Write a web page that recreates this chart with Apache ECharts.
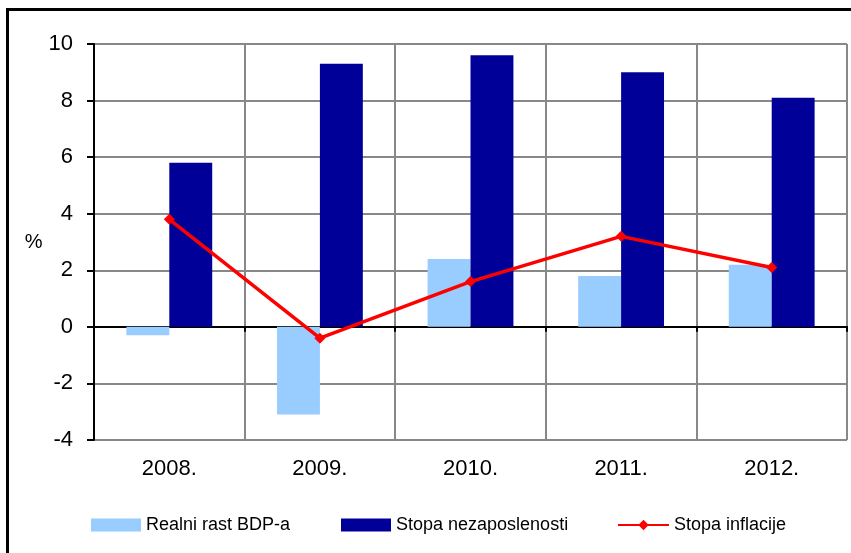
<!DOCTYPE html>
<html>
<head>
<meta charset="utf-8">
<script src="https://cdn.jsdelivr.net/npm/echarts@6/dist/echarts.min.js"></script>
<style>
  html, body { margin: 0; padding: 0; background: #fff; }
  #chart { width: 851px; height: 553px; }
</style>
</head>
<body>
<div id="chart"></div>
<script>
// podaci s grafikona
const years = ["2008.", "2009.", "2010.", "2011.", "2012."];
const realGdp = [-0.3, -3.1, 2.4, 1.8, 2.2];
const unemployment = [5.8, 9.3, 9.6, 9.0, 8.1];
const inflation = [3.8, -0.4, 1.6, 3.2, 2.1];
const yTicks = [-4, -2, 0, 2, 4, 6, 8, 10];

const font = "'Liberation Sans', Arial, sans-serif";
const legendText = { fontFamily: font, fontSize: 18, color: "#000" };

const chart = echarts.init(document.getElementById("chart"));
const option = {
  animation: false,
  backgroundColor: "#fff",
  textStyle: { fontFamily: font },
  graphic: [
    {
      // okvir oko grafikona
      type: "rect",
      shape: { x: 7.5, y: 9.5, width: 900, height: 600 },
      style: { fill: "none", stroke: "#000", lineWidth: 3 },
      silent: true,
    },
  ],
  grid: { left: 94, top: 44, right: 4, bottom: 113 },
  legend: [
    {
      data: [{ name: "Realni rast BDP-a", icon: "rect" }],
      left: 91, top: 516, padding: 0,
      itemWidth: 50, itemHeight: 13,
      textStyle: legendText,
    },
    {
      data: [{ name: "Stopa nezaposlenosti", icon: "rect" }],
      left: 341, top: 516, padding: 0,
      itemWidth: 50, itemHeight: 13,
      textStyle: legendText,
    },
    {
      data: ["Stopa inflacije"],
      left: 617, top: 516, padding: 0,
      itemWidth: 51, itemHeight: 13,
      textStyle: legendText,
    },
  ],
  xAxis: [
    {
      type: "category",
      data: years,
      axisLine: { show: false, onZero: false },
      axisTick: { show: false },
      axisLabel: { color: "#000", fontSize: 22, margin: 18, fontFamily: font },
      splitLine: { show: true, lineStyle: { color: "#888", width: 2 } },
    },
    {
      // linija na nuli s kvačicama
      type: "category",
      data: years,
      position: "bottom",
      axisLine: { show: true, onZero: true, lineStyle: { color: "#000", width: 2 } },
      axisTick: { show: true, length: 5, lineStyle: { color: "#000", width: 2 } },
      axisLabel: { show: false },
      splitLine: { show: false },
    },
  ],
  yAxis: {
    type: "value",
    min: yTicks[0],
    max: yTicks[yTicks.length - 1],
    interval: 2,
    name: "%",
    nameLocation: "middle",
    nameRotate: 0,
    nameGap: 47,
    nameTextStyle: { color: "#000", fontSize: 20, fontFamily: font, padding: [6, 0, 0, 0] },
    axisLine: { show: true, lineStyle: { color: "#000", width: 2 } },
    axisTick: { show: true, length: 7, lineStyle: { color: "#000", width: 2 } },
    axisLabel: { color: "#000", fontSize: 22, margin: 21, fontFamily: font },
    splitLine: { show: true, lineStyle: { color: "#888", width: 2 } },
  },
  series: [
    {
      name: "Realni rast BDP-a",
      type: "bar",
      data: realGdp,
      barGap: "0%",
      barCategoryGap: "43%",
      itemStyle: { color: "#99CCFF" },
    },
    {
      name: "Stopa nezaposlenosti",
      type: "bar",
      data: unemployment,
      itemStyle: { color: "#000099" },
    },
    {
      name: "Stopa inflacije",
      type: "line",
      data: inflation,
      z: 5,
      symbol: "diamond",
      symbolSize: 11,
      lineStyle: { color: "#FF0000", width: 3.5 },
      itemStyle: { color: "#FF0000" },
    },
  ],
};
chart.setOption(option);
</script>
</body>
</html>
